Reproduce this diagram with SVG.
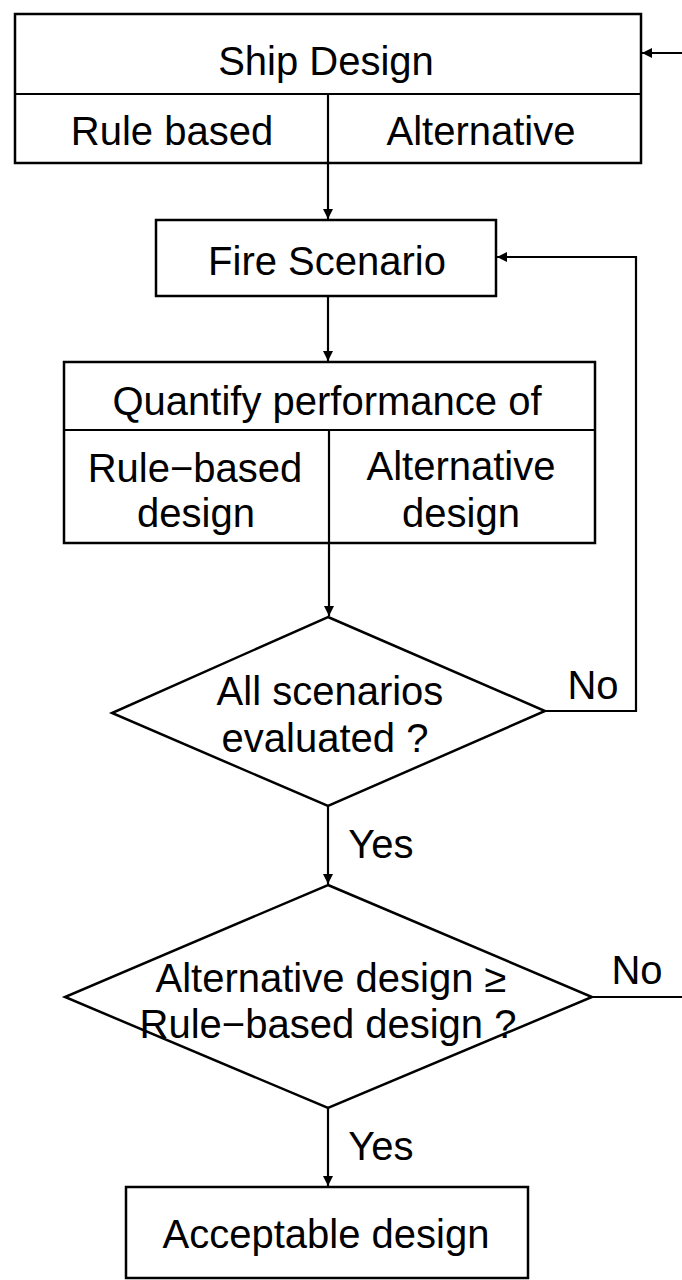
<svg xmlns="http://www.w3.org/2000/svg" width="682" height="1280" viewBox="0 0 682 1280">
<defs>
<style>
.box{fill:#fff;stroke:#000;stroke-width:2.5}
.ln{fill:none;stroke:#000;stroke-width:2.2}
text{font-family:"Liberation Sans",Arial,sans-serif;font-size:40px;fill:#000;text-anchor:middle}
</style>
<marker id="ah" viewBox="0 0 10 10" refX="10" refY="5" markerWidth="12" markerHeight="10" markerUnits="userSpaceOnUse" orient="auto">
<path d="M0,0 L10,5 L0,10 Z" fill="#000"/>
</marker>
</defs>
<rect width="682" height="1280" fill="#fff"/>
<g id="connectors">
<line class="ln" x1="682" y1="53" x2="642" y2="53" marker-end="url(#ah)"/>
<line class="ln" x1="328" y1="163" x2="328" y2="219" marker-end="url(#ah)"/>
<line class="ln" x1="328" y1="296" x2="328" y2="361" marker-end="url(#ah)"/>
<line class="ln" x1="329" y1="543" x2="329" y2="616" marker-end="url(#ah)"/>
<polyline class="ln" points="545,711 636,711 636,257 497,257" marker-end="url(#ah)"/>
<line class="ln" x1="328" y1="806" x2="328" y2="884" marker-end="url(#ah)"/>
<line class="ln" x1="592" y1="997" x2="682" y2="997"/>
<line class="ln" x1="328" y1="1108" x2="328" y2="1186" marker-end="url(#ah)"/>
<text x="593" y="699">No</text>
<text x="381" y="858">Yes</text>
<text x="637" y="984">No</text>
<text x="381" y="1160">Yes</text>
</g>
<g id="ship-design">
<rect class="box" x="15" y="14" width="626" height="149"/>
<line class="ln" x1="15" y1="94" x2="641" y2="94"/>
<line class="ln" x1="328" y1="94" x2="328" y2="163"/>
<text x="326" y="75">Ship Design</text>
<text x="172" y="145">Rule based</text>
<text x="481" y="145">Alternative</text>
</g>
<g id="fire-scenario">
<rect class="box" x="156" y="220" width="340" height="76"/>
<text x="327" y="275">Fire Scenario</text>
</g>
<g id="quantify">
<rect class="box" x="64" y="362" width="531" height="181"/>
<line class="ln" x1="64" y1="430" x2="595" y2="430"/>
<line class="ln" x1="329" y1="430" x2="329" y2="543"/>
<text x="327" y="415">Quantify performance of</text>
<text x="195" y="482">Rule−based</text>
<text x="196" y="527">design</text>
<text x="461" y="480">Alternative</text>
<text x="461" y="527">design</text>
</g>
<g id="all-evaluated">
<polygon class="box" points="328,617 545,711 328,806 112,713"/>
<text x="330" y="705">All scenarios</text>
<text x="325" y="752">evaluated ?</text>
</g>
<g id="compare">
<polygon class="box" points="328,885 592,997 328,1108 65,997"/>
<text x="331" y="992">Alternative design ≥</text>
<text x="328" y="1038">Rule−based design ?</text>
</g>
<g id="acceptable">
<rect class="box" x="126" y="1187" width="402" height="91"/>
<text x="326" y="1248">Acceptable design</text>
</g>
</svg>
